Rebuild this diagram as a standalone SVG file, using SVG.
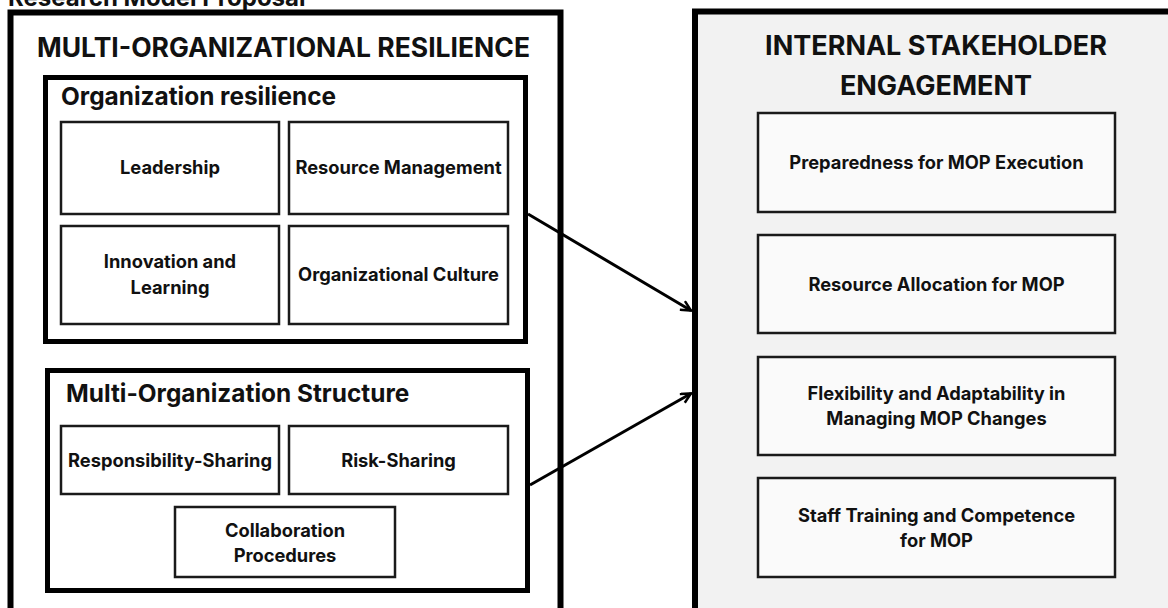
<svg xmlns="http://www.w3.org/2000/svg" width="1168" height="608" viewBox="0 0 1168 608">
  <defs>
    <style>
      text { font-family: Inter, "Noto Sans", "Liberation Sans", sans-serif; font-weight: 700; fill: #111111; }
      .outer { fill: #ffffff; stroke: #000000; stroke-width: 6; }
      .outer-gray { fill: #f2f2f2; stroke: #000000; stroke-width: 6; }
      .group { fill: #ffffff; stroke: #000000; stroke-width: 5; }
      .item { fill: #ffffff; stroke: #1a1a1a; stroke-width: 2.5; }
      .item-r { fill: #fafafa; stroke: #1a1a1a; stroke-width: 2.5; }
      .h1 { font-size: 26.5px; }
      .h1r { font-size: 27px; text-anchor: middle; }
      .h2 { font-size: 24.4px; }
      .lbl { font-size: 18.3px; text-anchor: middle; }
      .conn { stroke: #000000; stroke-width: 3; fill: none; }
    </style>
    <marker id="arrow" viewBox="0 0 12 12" refX="11" refY="6" markerWidth="12" markerHeight="12" markerUnits="userSpaceOnUse" orient="auto">
      <path d="M1,1 L11,6 L1,11" fill="none" stroke="#000000" stroke-width="2.5"/>
    </marker>
  </defs>

  <rect x="0" y="0" width="1168" height="608" fill="#ffffff"/>

  <text x="8" y="6" style="font-size:24px">Research Model Proposal</text>

  <g id="multi-organizational-resilience">
    <rect class="outer" x="10.5" y="12.5" width="550" height="620"/>
    <text class="h1" x="37" y="57">MULTI-ORGANIZATIONAL RESILIENCE</text>
  </g>

  <g id="organization-resilience">
    <rect class="group" x="45.5" y="77.5" width="480" height="264"/>
    <text class="h2" x="61" y="105">Organization resilience</text>
  </g>
  <g id="leadership">
    <rect class="item" x="61" y="122" width="218" height="92"/>
    <text class="lbl" x="170" y="174">Leadership</text>
  </g>
  <g id="resource-management">
    <rect class="item" x="289" y="122" width="219" height="92"/>
    <text class="lbl" x="398.5" y="174">Resource Management</text>
  </g>
  <g id="innovation-and-learning">
    <rect class="item" x="61" y="226" width="218" height="98"/>
    <text class="lbl" x="170" y="268">Innovation and</text>
    <text class="lbl" x="170" y="294">Learning</text>
  </g>
  <g id="organizational-culture">
    <rect class="item" x="289" y="226" width="219" height="98"/>
    <text class="lbl" x="398.5" y="281">Organizational Culture</text>
  </g>

  <g id="multi-organization-structure">
    <rect class="group" x="47.5" y="370.5" width="480" height="220"/>
    <text class="h2" x="66" y="402">Multi-Organization Structure</text>
  </g>
  <g id="responsibility-sharing">
    <rect class="item" x="61" y="426" width="218" height="68"/>
    <text class="lbl" x="170" y="467">Responsibility-Sharing</text>
  </g>
  <g id="risk-sharing">
    <rect class="item" x="289" y="426" width="219" height="68"/>
    <text class="lbl" x="398.5" y="467">Risk-Sharing</text>
  </g>
  <g id="collaboration-procedures">
    <rect class="item" x="175" y="507" width="220" height="70"/>
    <text class="lbl" x="285" y="537">Collaboration</text>
    <text class="lbl" x="285" y="562">Procedures</text>
  </g>

  <g id="internal-stakeholder-engagement">
    <rect class="outer-gray" x="695" y="11.5" width="500" height="620"/>
    <text class="h1r" x="936" y="55">INTERNAL STAKEHOLDER</text>
    <text class="h1r" x="936" y="95">ENGAGEMENT</text>
  </g>
  <g id="preparedness">
    <rect class="item-r" x="758" y="113" width="357" height="99"/>
    <text class="lbl" x="936.5" y="169">Preparedness for MOP Execution</text>
  </g>
  <g id="resource-allocation">
    <rect class="item-r" x="758" y="235" width="357" height="98"/>
    <text class="lbl" x="936.5" y="291">Resource Allocation for MOP</text>
  </g>
  <g id="flexibility">
    <rect class="item-r" x="758" y="357" width="357" height="98"/>
    <text class="lbl" x="936.5" y="400">Flexibility and Adaptability in</text>
    <text class="lbl" x="936.5" y="425">Managing MOP Changes</text>
  </g>
  <g id="staff-training">
    <rect class="item-r" x="758" y="478" width="357" height="99"/>
    <text class="lbl" x="936.5" y="522">Staff Training and Competence</text>
    <text class="lbl" x="936.5" y="547">for MOP</text>
  </g>

  <g id="connectors">
    <line class="conn" x1="528" y1="214" x2="691" y2="310.5" marker-end="url(#arrow)"/>
    <line class="conn" x1="530" y1="485" x2="691" y2="393.5" marker-end="url(#arrow)"/>
  </g>
</svg>
